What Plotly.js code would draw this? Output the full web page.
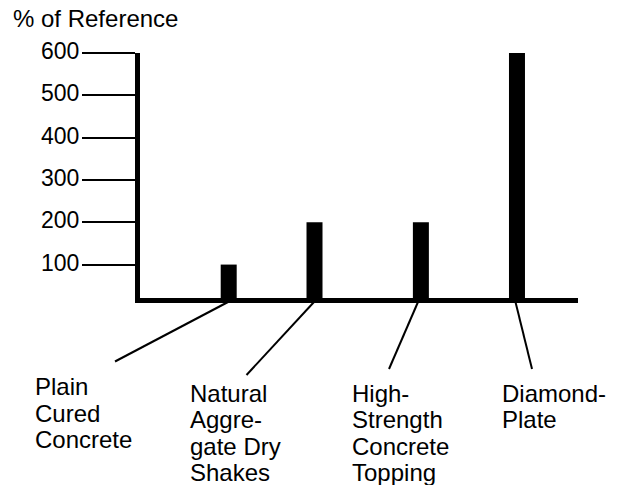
<!DOCTYPE html>
<html>
<head>
<meta charset="utf-8">
<script src="https://cdn.plot.ly/plotly-3.0.1.min.js"></script>
<style>html,body{margin:0;padding:0;background:#fff;}#chart{width:622px;height:485px;}</style>
</head>
<body>
<div id="chart"></div>
<script>
// ---- data ----
const categories = ["Plain Cured Concrete", "Natural Aggregate Dry Shakes", "High-Strength Concrete Topping", "Diamond-Plate"];
const values = [100, 200, 200, 600];
const labelLines = [
  ["Plain", "Cured", "Concrete"],
  ["Natural", "Aggre-", "gate Dry", "Shakes"],
  ["High-", "Strength", "Concrete", "Topping"],
  ["Diamond-", "Plate"]
];
const tickValues = [100, 200, 300, 400, 500, 600];
const tickLabels = ["100", "200", "300", "400", "500", "600"];
const yTitle = "% of Reference";

// ---- layout geometry (pixels) ----
const W = 622, H = 485;
const M = {l: 140, r: 44, t: 53, b: 187};
const PW = W - M.l - M.r, PH = H - M.t - M.b;
const px2x = px => (px - M.l) / PW;
const py2y = py => (H - M.b - py) / PH;

const FONT = "Liberation Sans, Arial, Helvetica, sans-serif";

// leader lines (bar foot -> label), pixel geometry
const leaderFrom = [[228, 302], [314, 302], [418, 302], [515.5, 302]];
const leaderTo = [[115, 361.5], [246.5, 375], [389, 369], [532, 369]];
const labelOrigin = [[37, 378.5], [192.3, 385], [354.3, 385], [504.3, 385]];
const linePitch = 26.6;

const shapes = leaderFrom.map((p, i) => ({
  type: 'line', xref: 'paper', yref: 'paper',
  x0: px2x(p[0]), y0: py2y(p[1]), x1: px2x(leaderTo[i][0]), y1: py2y(leaderTo[i][1]),
  line: {color: '#000', width: 2}, layer: 'above'
}));

const annotations = [];
labelLines.forEach((lines, i) => {
  lines.forEach((t, j) => {
    annotations.push({
      text: t, showarrow: false, xref: 'paper', yref: 'paper',
      x: px2x(labelOrigin[i][0] - 3), y: py2y(labelOrigin[i][1] - 6.5 + j * linePitch),
      xanchor: 'left', yanchor: 'top', align: 'left', borderpad: 0,
      font: {family: FONT, size: 24, color: '#000'}
    });
  });
});

const barWidth = 0.1665;
const trace = {
  type: 'bar', x: categories, y: values,
  marker: {color: '#000', line: {width: 0}},
  width: barWidth,
  offset: [-barWidth / 2, -barWidth / 2 - 0.107, -barWidth / 2, -barWidth / 2],
  hoverinfo: 'none'
};

const layout = {
  width: W, height: H,
  margin: M,
  paper_bgcolor: '#fff', plot_bgcolor: '#fff',
  showlegend: false,
  font: {family: FONT, color: '#000'},
  title: {
    text: yTitle, xref: 'container', yref: 'container',
    x: 13 / W, xanchor: 'left', y: 1 - 10 / H, yanchor: 'top',
    font: {family: FONT, size: 24, color: '#000'}
  },
  xaxis: {
    type: 'category', range: [-0.923, 3.635],
    showline: true, linewidth: 5, linecolor: '#000',
    showticklabels: false, ticks: '', showgrid: false, zeroline: false, fixedrange: true
  },
  yaxis: {
    range: [21, 600],
    showline: true, linewidth: 5, linecolor: '#000',
    tickmode: 'array', tickvals: tickValues, ticktext: tickLabels,
    ticks: 'outside', ticklen: 53, tickwidth: 2, tickcolor: '#000',
    tickfont: {family: FONT, size: 23, color: '#000'},
    ticklabelshift: -2, ticklabelstandoff: -2,
    showgrid: false, zeroline: false, fixedrange: true
  },
  shapes: shapes,
  annotations: annotations
};

Plotly.newPlot('chart', [trace], layout, {displayModeBar: false, staticPlot: true});
</script>
</body>
</html>
